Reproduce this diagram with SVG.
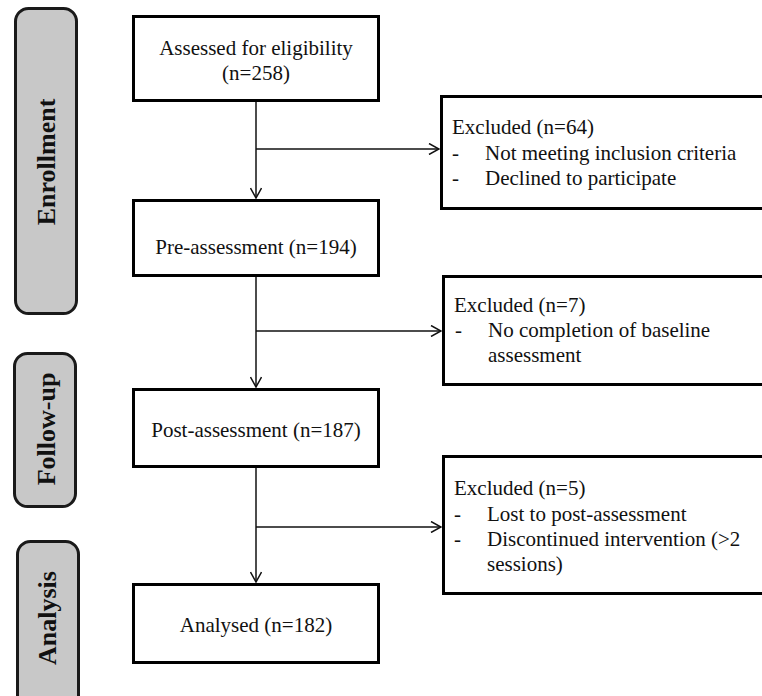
<svg xmlns="http://www.w3.org/2000/svg" width="762" height="696" viewBox="0 0 762 696">
<style>
.box{fill:#fff;stroke:#000;stroke-width:3}
.pill{fill:#c8c8c8;stroke:#1a1a1a;stroke-width:3}
.t{font-family:"Liberation Serif","Times New Roman",serif;font-size:21px;fill:#111}
.c{text-anchor:middle}
.lab{font-family:"Liberation Serif","Times New Roman",serif;font-size:26px;font-weight:bold;fill:#111;text-anchor:middle}
.ln{fill:none;stroke:#111;stroke-width:1.5}
</style>
<defs>
<marker id="arr" viewBox="0 0 12 12" refX="11" refY="6" markerWidth="12" markerHeight="12" markerUnits="userSpaceOnUse" orient="auto">
<path d="M1,0.5 L11,6 L1,11.5" fill="none" stroke="#111" stroke-width="1.5"/>
</marker>
</defs>
<rect width="762" height="696" fill="#fff"/>
<g id="stage-enrollment">
<rect class="pill" x="15.5" y="8.5" width="61" height="305" rx="13"/>
<text class="lab" transform="translate(55,162) rotate(-90)">Enrollment</text>
</g>
<g id="stage-followup">
<rect class="pill" x="14.5" y="353.5" width="61" height="153" rx="13"/>
<text class="lab" transform="translate(55,429) rotate(-90)">Follow-up</text>
</g>
<g id="stage-analysis">
<rect class="pill" x="17.5" y="541.5" width="61" height="170" rx="13"/>
<text class="lab" transform="translate(56,618) rotate(-90)">Analysis</text>
</g>
<g id="connectors">
<line class="ln" x1="256" y1="102" x2="256" y2="198" marker-end="url(#arr)"/>
<line class="ln" x1="256" y1="149" x2="439" y2="149" marker-end="url(#arr)"/>
<line class="ln" x1="256" y1="277" x2="256" y2="387" marker-end="url(#arr)"/>
<line class="ln" x1="256" y1="331" x2="441" y2="331" marker-end="url(#arr)"/>
<line class="ln" x1="256" y1="468" x2="256" y2="582" marker-end="url(#arr)"/>
<line class="ln" x1="256" y1="527" x2="441" y2="527" marker-end="url(#arr)"/>
</g>
<g id="assessed">
<rect class="box" x="133.5" y="16.5" width="245" height="84"/>
<text class="t c" x="256" y="55">Assessed for eligibility</text>
<text class="t c" x="256" y="80">(n=258)</text>
</g>
<g id="pre-assessment">
<rect class="box" x="133.5" y="200.5" width="245" height="75"/>
<text class="t c" x="256" y="254">Pre-assessment (n=194)</text>
</g>
<g id="post-assessment">
<rect class="box" x="133.5" y="389.5" width="245" height="77"/>
<text class="t c" x="256" y="437">Post-assessment (n=187)</text>
</g>
<g id="analysed">
<rect class="box" x="133.5" y="584.5" width="245" height="78"/>
<text class="t c" x="256" y="632">Analysed (n=182)</text>
</g>
<g id="excluded-64">
<rect class="box" x="441.5" y="96.5" width="340" height="112"/>
<text class="t" x="452" y="134">Excluded (n=64)</text>
<text class="t" x="452" y="160">-</text>
<text class="t" x="485" y="160">Not meeting inclusion criteria</text>
<text class="t" x="452" y="185">-</text>
<text class="t" x="485" y="185">Declined to participate</text>
</g>
<g id="excluded-7">
<rect class="box" x="443.5" y="276.5" width="340" height="108"/>
<text class="t" x="454" y="312">Excluded (n=7)</text>
<text class="t" x="455" y="337">-</text>
<text class="t" x="488" y="337">No completion of baseline</text>
<text class="t" x="488" y="362">assessment</text>
</g>
<g id="excluded-5">
<rect class="box" x="443.5" y="456.5" width="340" height="137"/>
<text class="t" x="454" y="495">Excluded (n=5)</text>
<text class="t" x="454" y="521">-</text>
<text class="t" x="487" y="521">Lost to post-assessment</text>
<text class="t" x="454" y="546">-</text>
<text class="t" x="487" y="546">Discontinued intervention (&gt;2</text>
<text class="t" x="487" y="571">sessions)</text>
</g>
</svg>
